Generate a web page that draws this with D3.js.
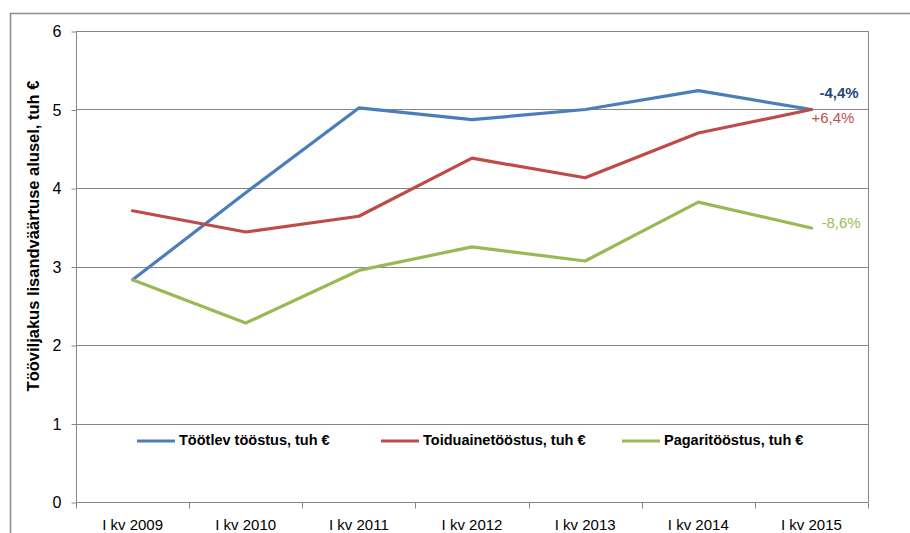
<!DOCTYPE html>
<html><head><meta charset="utf-8">
<script src="https://cdn.jsdelivr.net/npm/d3@7"></script>
<style>body{margin:0;background:#fff}svg{display:block}</style>
</head><body><svg id="c" width="910" height="533"></svg>
<script>
const categories = ["I kv 2009","I kv 2010","I kv 2011","I kv 2012","I kv 2013","I kv 2014","I kv 2015"];
const seriesNames = ["Töötlev tööstus, tuh €","Toiduainetööstus, tuh €","Pagaritööstus, tuh €"];
const tootlev = [2.83, 3.94, 5.02, 4.87, 5.00, 5.24, 5.00];
const toiduaine = [3.71, 3.44, 3.64, 4.38, 4.13, 4.70, 5.00];
const pagari = [2.83, 2.28, 2.95, 3.25, 3.07, 3.82, 3.49];
const changeLabels = ["-4,4%","+6,4%","-8,6%"];
const yTicks = [0,1,2,3,4,5,6];
const colors = ["#4A7EBB","#BE4B48","#98B954"];
const labelColors = ["#1F497D","#C0504D","#9BBB59"];

const svg = d3.select("#c");
const font = "'Liberation Sans', Arial, sans-serif";
// outer chart border
svg.append("rect").attr("x",10.5).attr("y",13.5).attr("width",905).attr("height",530)
  .attr("fill","none").attr("stroke","#8c8c8c").attr("stroke-width",1.5);

const L=76, R=868, T=31, B=502;
const x = d3.scaleBand().domain(categories).range([L,R]);
const y = d3.scaleLinear().domain([0,6]).range([B,T]);

// gridlines
svg.append("g").selectAll("line").data(yTicks.filter(d=>d>0)).join("line")
  .attr("x1",L).attr("x2",R).attr("y1",d=>Math.round(y(d))+0.5).attr("y2",d=>Math.round(y(d))+0.5)
  .attr("stroke","#868686").attr("stroke-width",1);
// right border of plot
svg.append("line").attr("x1",R+0.5).attr("x2",R+0.5).attr("y1",T).attr("y2",B).attr("stroke","#868686");

// y axis
const ya = svg.append("g").attr("transform",`translate(${L+0.5},0.5)`)
  .call(d3.axisLeft(y).tickValues(yTicks).tickSize(5).tickPadding(10).tickFormat(d3.format("d")));
ya.select(".domain").attr("stroke","#868686").attr("d",`M0,${T}V${B}`);
ya.selectAll(".tick line").attr("stroke","#868686");
ya.selectAll(".tick text").attr("font-family",font).attr("font-size",16).attr("fill","#000");

// x axis
const xa = svg.append("g").attr("transform",`translate(0,${B+0.5})`)
  .call(d3.axisBottom(x).tickSize(0).tickPadding(17));
xa.select(".domain").attr("stroke","#868686").attr("d",`M${L},0H${R}`);
xa.selectAll(".tick text").attr("font-family",font).attr("font-size",15).attr("fill","#000");
// category boundary ticks
const bounds = categories.map(c=>x(c)).concat([R]);
xa.append("g").selectAll("line").data(bounds).join("line")
  .attr("x1",d=>Math.round(d)+0.5).attr("x2",d=>Math.round(d)+0.5).attr("y1",0).attr("y2",6).attr("stroke","#868686");

// lines
const data = [tootlev, toiduaine, pagari];
const line = d3.line().x((d,i)=>x(categories[i])+x.bandwidth()/2).y(d=>y(d));
svg.append("g").selectAll("path").data(data).join("path")
  .attr("d",line).attr("fill","none").attr("stroke",(d,i)=>colors[i]).attr("stroke-width",3.2)
  .attr("stroke-linejoin","round").attr("stroke-linecap","round");

// end labels
const lastX = x(categories[6])+x.bandwidth()/2;
const lblOffsets = [[8,-15],[0,10],[10,-4]];
svg.append("g").selectAll("text").data(changeLabels).join("text")
  .attr("x",(d,i)=>lastX+lblOffsets[i][0]).attr("y",(d,i)=>y(data[i][6])+lblOffsets[i][1])
  .attr("font-family",font).attr("font-size",15).attr("font-weight",(d,i)=>i===0?"bold":"normal")
  .attr("fill",(d,i)=>labelColors[i]).attr("dominant-baseline","middle").text(d=>d);

// legend
const legX = [137, 381, 622];
const legY = 441;
const lg = svg.append("g").selectAll("g").data(seriesNames).join("g");
lg.append("line").attr("x1",(d,i)=>legX[i]).attr("x2",(d,i)=>legX[i]+38).attr("y1",legY).attr("y2",legY)
  .attr("stroke",(d,i)=>colors[i]).attr("stroke-width",3.2);
lg.append("text").attr("x",(d,i)=>legX[i]+42).attr("y",legY).attr("dominant-baseline","middle")
  .attr("font-family",font).attr("font-size",14.5).attr("font-weight","bold").attr("fill","#000").text(d=>d);

// y title
svg.append("text").attr("transform",`translate(39,236) rotate(-90)`).attr("text-anchor","middle")
  .attr("font-family",font).attr("font-size",16.5).attr("font-weight","bold").attr("fill","#000")
  .text("Tööviljakus lisandväärtuse alusel, tuh €");
</script></body></html>
